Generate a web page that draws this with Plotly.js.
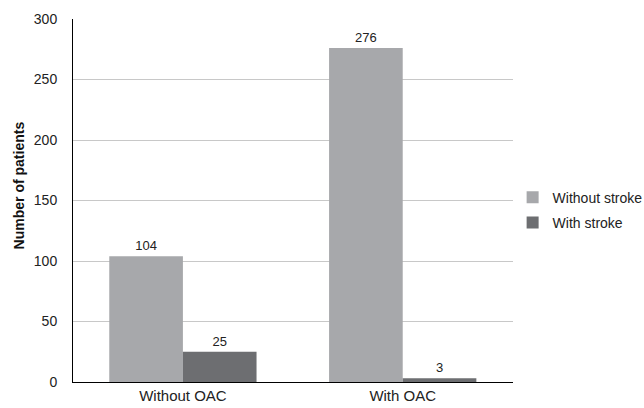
<!DOCTYPE html>
<html>
<head>
<meta charset="utf-8">
<script src="https://cdn.plot.ly/plotly-3.0.1.min.js"></script>
<style>html,body{margin:0;padding:0;background:#fff;}#chart{width:644px;height:408px;}</style>
</head>
<body>
<div id="chart"></div>
<script>
const categories = ["Without OAC", "With OAC"];
const seriesNames = ["Without stroke", "With stroke"];
const withoutStroke = [104, 276];
const withStroke = [25, 3];
const yTicks = [0, 50, 100, 150, 200, 250, 300];
const yTitle = "Number of patients";

const font = "Arial, 'Liberation Sans', sans-serif";
const traces = [
  {type: "bar", name: seriesNames[0], legendgroup: "a", x: categories, y: withoutStroke,
   marker: {color: "#a7a8ab"}, text: withoutStroke.map(String), textposition: "outside",
   textfont: {size: 13, color: "#222"}, cliponaxis: false},
  {type: "bar", name: seriesNames[1], legendgroup: "b", x: categories, y: withStroke,
   marker: {color: "#6d6e71"}, text: withStroke.map(String), textposition: "outside",
   textfont: {size: 13, color: "#222"}, cliponaxis: false}
];
const layout = {
  width: 644, height: 408,
  margin: {l: 73, r: 127, t: 19, b: 26},
  paper_bgcolor: "#fff", plot_bgcolor: "#fff",
  font: {family: font, size: 14, color: "#222"},
  barmode: "group", bargap: 0.33, bargroupgap: 0,
  showlegend: true,
  legend: {xref: "container", yref: "container", x: 0.796, xanchor: "left", y: 0.485, yanchor: "middle",
           bgcolor: "rgba(0,0,0,0)", font: {size: 14, color: "#222"},
           traceorder: "grouped", tracegroupgap: 4, itemwidth: 30},
  xaxis: {showline: true, linecolor: "#000", linewidth: 1, showgrid: false,
          ticks: "", tickfont: {size: 15, color: "#222"}, fixedrange: true, automargin: false},
  yaxis: {range: [0, 300], tickvals: yTicks, showline: true, linecolor: "#000", linewidth: 1,
          showgrid: true, gridcolor: "#c8c8c8", zeroline: false, ticks: "",
          ticklabelstandoff: 12, tickfont: {size: 14, color: "#222"},
          fixedrange: true, automargin: false},
  annotations: [{text: "<b>" + yTitle + "</b>", xref: "paper", yref: "paper",
                 x: -0.124, y: 0.543, xanchor: "center", yanchor: "middle", textangle: -90,
                 showarrow: false, font: {size: 14, color: "#111"}}]
};
Plotly.newPlot("chart", traces, layout, {displayModeBar: false, staticPlot: true});
</script>
</body>
</html>
